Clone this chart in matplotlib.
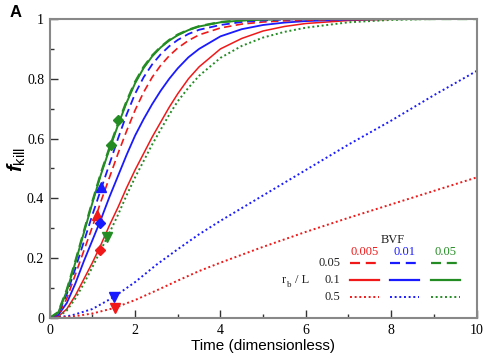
import matplotlib
matplotlib.use("Agg")
import matplotlib.pyplot as plt
from matplotlib.ticker import MultipleLocator, FuncFormatter

# ---- data ----
t_main = [0, 0.2, 0.4, 0.6, 0.8, 1.0, 1.2, 1.4, 1.6, 1.8, 2.0, 2.2, 2.4, 2.6, 2.8, 3.0,
          3.25, 3.5, 4.0, 4.5, 5.0, 5.5, 6.0, 7.0, 8.0, 9.0, 10.0]

# rb/L = 0.05 (dashed)
green_dash = [0, 0.02, 0.095, 0.19, 0.29, 0.39, 0.485, 0.57, 0.65, 0.725, 0.79, 0.84, 0.878, 0.907, 0.93, 0.948,
              0.964, 0.976, 0.99, 0.996, 0.999, 1, 1, 1, 1, 1, 1]
blue_dash = [0, 0.015, 0.08, 0.165, 0.255, 0.345, 0.43, 0.515, 0.60, 0.68, 0.75, 0.805, 0.848, 0.882, 0.909, 0.93,
             0.95, 0.964, 0.98, 0.99, 0.995, 0.998, 0.999, 1, 1, 1, 1]
red_dash = [0, 0.012, 0.065, 0.145, 0.225, 0.305, 0.39, 0.47, 0.55, 0.625, 0.695, 0.755, 0.805, 0.845, 0.877, 0.903,
            0.928, 0.947, 0.97, 0.983, 0.99, 0.994, 0.996, 0.999, 1, 1, 1]
# rb/L = 0.1 (solid)
green_solid = [0, 0.018, 0.09, 0.185, 0.285, 0.385, 0.48, 0.565, 0.645, 0.72, 0.785, 0.836, 0.875, 0.905, 0.928, 0.946,
               0.963, 0.975, 0.989, 0.995, 0.998, 1, 1, 1, 1, 1, 1]
blue_solid = [0, 0.01, 0.05, 0.115, 0.19, 0.26, 0.33, 0.405, 0.475, 0.545, 0.61, 0.665, 0.715, 0.76, 0.80, 0.835,
              0.872, 0.90, 0.942, 0.966, 0.98, 0.988, 0.993, 0.998, 1, 1, 1]
red_solid = [0, 0.005, 0.03, 0.075, 0.13, 0.185, 0.245, 0.31, 0.37, 0.435, 0.495, 0.55, 0.605, 0.655, 0.705, 0.75,
             0.80, 0.84, 0.90, 0.935, 0.96, 0.975, 0.985, 0.995, 0.999, 1, 1]
# rb/L = 0.5 (dotted)
green_dot = [0, 0.004, 0.025, 0.065, 0.115, 0.17, 0.228, 0.285, 0.345, 0.41, 0.47, 0.525, 0.58, 0.63, 0.68, 0.725,
             0.77, 0.81, 0.87, 0.91, 0.938, 0.957, 0.971, 0.989, 0.997, 1, 1]

t_slow = [0, 0.5, 1.0, 1.5, 2.0, 2.5, 3.0, 3.5, 4.0, 5.0, 6.0, 7.0, 8.0, 9.0, 10.0]
blue_dot = [0, 0.008, 0.03, 0.07, 0.12, 0.178, 0.23, 0.28, 0.325, 0.41, 0.495, 0.58, 0.66, 0.745, 0.826]
red_dot = [0, 0.004, 0.015, 0.033, 0.06, 0.092, 0.125, 0.157, 0.185, 0.238, 0.288, 0.335, 0.38, 0.425, 0.47]

# markers
mk_t = [1.43, 1.61, 1.19, 1.10, 1.18, 1.35, 1.18, 1.51, 1.53]
mk_y = [0.579, 0.662, 0.437, 0.344, 0.319, 0.272, 0.227, 0.071, 0.033]
mk_shape = ['D', 'D', '^', '^', 'D', 'v', 'D', 'v', 'v']
mk_color = ['g', 'g', 'b', 'r', 'b', 'g', 'r', 'b', 'r']

bvf_labels = ['0.005', '0.01', '0.05']
rb_labels = ['0.05', '0.1', '0.5']

RED = '#f01818'
BLUE = '#1a1aff'
GREEN = '#238c23'
cmap = {'r': RED, 'b': BLUE, 'g': GREEN}

plt.rcParams['mathtext.fontset'] = 'custom'
plt.rcParams['mathtext.it'] = 'Liberation Sans:italic:bold'
plt.rcParams['mathtext.rm'] = 'Liberation Sans'

fig = plt.figure(figsize=(4.85, 3.6), dpi=100)
ax = fig.add_axes([0.1025, 0.1167, 0.88, 0.8305])

lw = 1.2
dash = (0, (4.5, 2.6))
dot = (0, (1, 1.4))
ax.plot(t_main, red_solid, color=RED, lw=1.1, ls='-')
ax.plot(t_main, green_dot, color=GREEN, lw=1.4, ls=dot)
ax.plot(t_main, blue_solid, color=BLUE, lw=1.3, ls='-')
ax.plot(t_main, red_dash, color=RED, lw=lw, ls=dash)
ax.plot(t_main, blue_dash, color=BLUE, lw=1.3, ls=dash)
ax.plot(t_main, green_solid, color=GREEN, lw=1.4, ls='-')
ax.plot(t_main, green_dash, color=GREEN, lw=1.6, ls=dash)
ax.plot(t_slow, blue_dot, color=BLUE, lw=1.4, ls=dot)
ax.plot(t_slow, red_dot, color=RED, lw=1.4, ls=dot)

for x, y, m, c in zip(mk_t, mk_y, mk_shape, mk_color):
    ax.plot([x], [y], marker=m, color=cmap[c], ms=6.5 if m != 'D' else 5.5, ls='none', mec=cmap[c])

ax.set_xlim(0, 10)
ax.set_ylim(0, 1)
ax.xaxis.set_major_locator(MultipleLocator(2))
ax.xaxis.set_minor_locator(MultipleLocator(1))
ax.yaxis.set_major_locator(MultipleLocator(0.2))
ax.yaxis.set_minor_locator(MultipleLocator(0.1))
ax.yaxis.set_major_formatter(FuncFormatter(lambda v, p: '%g' % round(v, 2)))
ax.xaxis.set_major_formatter(FuncFormatter(lambda v, p: '%g' % round(v, 2)))
ax.tick_params(which='both', direction='in', top=False, right=False, color='#333333', width=1)
ax.tick_params(which='major', length=6, labelsize=10, pad=4)
ax.tick_params(which='minor', length=3)
for lab in ax.get_xticklabels() + ax.get_yticklabels():
    lab.set_fontfamily('Liberation Serif')
for s in ax.spines.values():
    s.set_color('#888888')
    s.set_linewidth(1.5)

ax.set_xlabel('Time (dimensionless)', fontfamily='Liberation Sans', fontsize=11, labelpad=2)
ax.set_ylabel(r'$f_{\mathrm{kill}}$', fontsize=15)
ax.yaxis.set_label_coords(-0.052, 0.53)

fig.text(0.02, 0.985, 'A', fontfamily='Liberation Sans', fontweight='bold', fontsize=12, va='top')

# ---- custom legend table ----
tr = ax.transAxes
def ax_pt(px, py):
    return ((px - 49.7) / (476.5 - 49.7), (318 - py) / (318 - 19))

serif = 'Liberation Serif'
lfs = 9
x0, y0 = ax_pt(393, 240)
ax.text(x0, y0, 'BVF', transform=tr, fontfamily=serif, fontsize=lfs, ha='center', va='center', color='#222222')
col_x = [364.5, 404.5, 445.5]
col_c = [RED, BLUE, GREEN]
for lbl, cx, cc in zip(bvf_labels, col_x, col_c):
    xx, yy = ax_pt(cx, 252)
    ax.text(xx, yy, lbl, transform=tr, fontfamily=serif, fontsize=lfs, ha='center', va='center', color=cc)
row_y = [263, 280, 297]
row_ls = [dash, '-', dot]
for lbl, ry, ls in zip(rb_labels, row_y, row_ls):
    xx, yy = ax_pt(340, ry)
    ax.text(xx, yy, lbl, transform=tr, fontfamily=serif, fontsize=lfs, ha='right', va='center', color='#222222')
    for cx, cc in zip(col_x, col_c):
        xa, ya = ax_pt(cx - 14.5, ry)
        xb, _ = ax_pt(cx + 14.5, ry)
        ax.plot([xa, xb], [ya, ya], transform=tr, color=cc, ls=ls, lw=1.6 if ls != dot else 1.4)
xr, yr = ax_pt(282, 280)
ax.text(xr, yr, 'r', transform=tr, fontfamily=serif, fontsize=lfs, ha='left', va='center', color='#222222')
ax.annotate('b', xy=(xr, yr), xycoords=tr, xytext=(3.6, -3.5), textcoords='offset points',
            fontfamily=serif, fontsize=6.5, ha='left', va='center', color='#222222')
ax.annotate('/ L', xy=(xr, yr), xycoords=tr, xytext=(9.5, 0), textcoords='offset points',
            fontfamily=serif, fontsize=lfs, ha='left', va='center', color='#222222')

fig.savefig('out.png', dpi=100)
